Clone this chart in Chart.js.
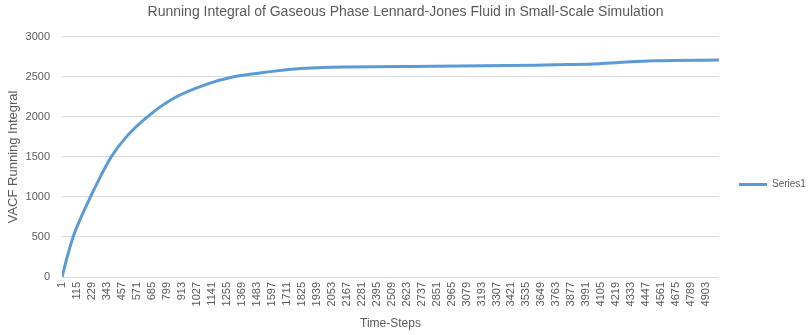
<!doctype html>
<html lang="en">
  <head>
    <meta charset="utf-8">
    <title>Running Integral of Gaseous Phase Lennard-Jones Fluid</title>
    <script src="https://cdn.jsdelivr.net/npm/chart.js@4.4.0/dist/chart.umd.min.js"></script>
    <style>
    html, body { margin: 0; padding: 0; background: #fff; }
    #wrap { width: 811px; height: 335px; }
    </style>
  </head>
<body>
<div id="wrap"><canvas id="myChart" width="811" height="335"></canvas></div>

<script>
// values
const STEPS = [1, 40, 85, 146, 217, 290, 375, 490, 650, 851, 1105, 1308, 1587, 1816, 1991, 2829, 3591, 3850, 4086, 4216, 4330, 4505, 5000];
const VACF  = [0, 250, 500, 747, 1000, 1245, 1500, 1750, 2000, 2232, 2408, 2500, 2565, 2603, 2618, 2632, 2645, 2653, 2664, 2676, 2689, 2701, 2710];

// category labels shown on the time axis (every 114th step)
const X_TICKS = [1, 115, 229, 343, 457, 571, 685, 799, 913, 1027, 1141, 1255, 1369, 1483, 1597, 1711,
  1825, 1939, 2053, 2167, 2281, 2395, 2509, 2623, 2737, 2851, 2965, 3079, 3193, 3307, 3421, 3535,
  3649, 3763, 3877, 3991, 4105, 4219, 4333, 4447, 4561, 4675, 4789, 4903];
const Y_TICKS = [0, 500, 1000, 1500, 2000, 2500, 3000];

const GREY = '#595959';
const FONT = "'Liberation Sans', Arial, sans-serif";

var points = STEPS.map(function (t, i) { return { x: t, y: VACF[i] }; });

var ctx = document.getElementById('myChart').getContext('2d');
var chart = new Chart(ctx, {
  type: 'line',
  data: {
    datasets: [{
      label: 'Series1',
      data: points,
      borderColor: '#5B9BD5',
      backgroundColor: '#5B9BD5',
      borderWidth: 3,
      pointRadius: 0,
      cubicInterpolationMode: 'monotone',
      fill: false
    }]
  },
  options: {
    responsive: false,
    animation: false,
    layout: { padding: 0 },
    plugins: {
      title: {
        display: true,
        text: 'Running Integral of Gaseous Phase Lennard-Jones Fluid in Small-Scale Simulation',
        color: GREY,
        font: { family: FONT, size: 14, weight: 'normal' },
        padding: { top: 4, bottom: 16 }
      },
      legend: {
        position: 'right',
        maxWidth: 92,
        // blank title only pushes the entry down a bit
        title: { display: true, text: ' ', font: { size: 10 }, padding: 11 },
        labels: {
          usePointStyle: true,
          pointStyle: 'line',
          pointStyleWidth: 28,
          boxWidth: 28,
          padding: 20,
          color: GREY,
          font: { family: FONT, size: 10 }
        }
      },
      tooltip: { enabled: false }
    },
    scales: {
      x: {
        type: 'linear',
        min: 0.5,
        max: 5000.5,
        afterBuildTicks: function (scale) {
          scale.ticks = X_TICKS.map(function (v) { return { value: v }; });
        },
        afterFit: function (scale) { scale.height = 58; },
        ticks: {
          autoSkip: false,
          minRotation: 90,
          maxRotation: 90,
          padding: 5,
          color: GREY,
          font: { family: FONT, size: 11 },
          callback: function (v) { return String(v); }
        },
        grid: { display: false, drawTicks: false },
        border: { display: false },
        title: {
          display: true,
          text: 'Time-Steps',
          color: GREY,
          font: { family: FONT, size: 12 },
          padding: { top: 0, bottom: 4 }
        }
      },
      y: {
        min: 0,
        max: 3000,
        afterBuildTicks: function (scale) {
          scale.ticks = Y_TICKS.map(function (v) { return { value: v }; });
        },
        afterFit: function (scale) { scale.width = 62; },
        ticks: {
          padding: 12,
          color: GREY,
          font: { family: FONT, size: 11 },
          callback: function (v) { return String(v); }
        },
        grid: { color: '#d9d9d9', lineWidth: 1, drawTicks: false },
        border: { display: false },
        title: {
          display: true,
          text: 'VACF Running Integral',
          color: GREY,
          font: { family: FONT, size: 13 },
          padding: { top: 6, bottom: 0 }
        }
      }
    }
  }
});
</script>

</body>
</html>
